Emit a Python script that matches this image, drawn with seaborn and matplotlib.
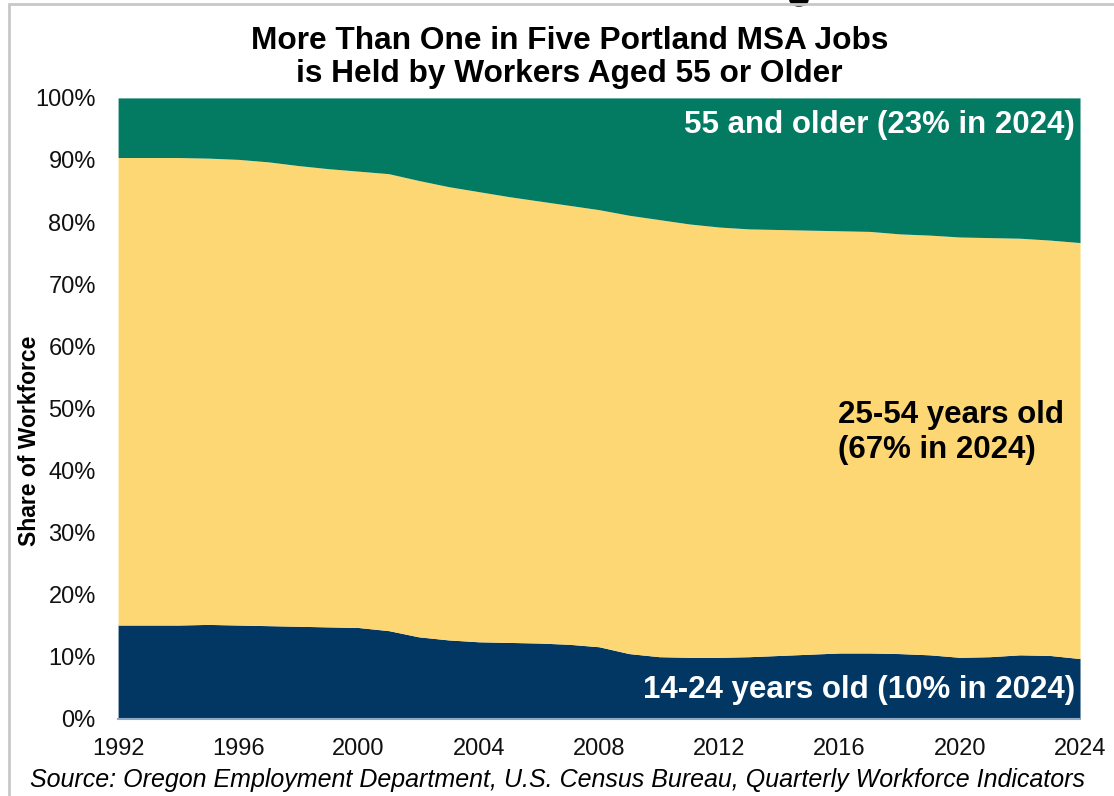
import seaborn as sns
import matplotlib.pyplot as plt
import matplotlib.patches as mpatches
import pandas as pd

# share of jobs by worker age, Portland MSA (percent)
years = list(range(1992, 2025))
age_14_24 = [15.1, 15.1, 15.1, 15.2, 15.1, 15.0, 14.9, 14.8, 14.7, 14.2, 13.2,
             12.7, 12.4, 12.3, 12.2, 12.0, 11.6, 10.5, 10.0, 9.9, 9.9, 10.0,
             10.2, 10.4, 10.6, 10.6, 10.5, 10.3, 9.9, 10.0, 10.3, 10.2, 9.7]
age_55_plus = [9.6, 9.6, 9.6, 9.7, 9.9, 10.3, 10.9, 11.4, 11.8, 12.2, 13.3,
               14.3, 15.1, 15.9, 16.6, 17.3, 18.0, 18.9, 19.6, 20.3, 20.8, 21.1,
               21.2, 21.3, 21.4, 21.5, 21.9, 22.1, 22.4, 22.5, 22.6, 22.9, 23.3]
age_25_54 = [100 - a - b for a, b in zip(age_14_24, age_55_plus)]

df = pd.DataFrame({"Year": years, "14-24": age_14_24,
                   "25-54": age_25_54, "55+": age_55_plus})

colors = ["#023764", "#FDD774", "#037A62"]

sns.set_style("white")
plt.rcParams['font.family'] = ['Liberation Sans', 'DejaVu Sans']
plt.rcParams['text.color'] = 'black'
plt.rcParams['axes.labelcolor'] = 'black'

fig = plt.figure(figsize=(11.14, 7.96), dpi=100)
ax = fig.add_axes([0.106, 0.097, 0.8635, 0.78])

ax.stackplot(df["Year"], df["14-24"], df["25-54"], df["55+"],
             colors=colors, linewidth=0)

ax.set_xlim(1992, 2024)
ax.set_ylim(0, 100)
ax.set_xticks(range(1992, 2025, 4))
ax.set_yticks(range(0, 101, 10))
ax.set_yticklabels([f"{v}%" for v in range(0, 101, 10)])
ax.tick_params(axis="both", labelsize=17, length=0, colors="#111111")
ax.tick_params(axis="x", pad=14)
ax.tick_params(axis="y", pad=16)
ax.set_ylabel("Share of Workforce", fontsize=16.5, fontweight="bold", va="center")
ax.yaxis.set_label_coords(-0.0925, 0.448)

sns.despine(ax=ax, left=True, top=True, right=True)
ax.spines["bottom"].set_color("#8EA9C1")
ax.spines["bottom"].set_linewidth(1.5)

ax.text(2023.84, 95.65, "55 and older (23% in 2024)", color="white",
        fontsize=22.5, fontweight="bold", ha="right", va="center")
ax.text(2015.95, 46.1, "25-54 years old\n(67% in 2024)", color="black",
        fontsize=22.5, fontweight="bold", ha="left", va="center", linespacing=1.25)
ax.text(2023.84, 4.67, "14-24 years old (10% in 2024)", color="white",
        fontsize=22.5, fontweight="bold", ha="right", va="center")

fig.text(0.511, 0.9278, "More Than One in Five Portland MSA Jobs\nis Held by Workers Aged 55 or Older",
         fontsize=22.8, fontweight="bold", ha="center", va="center", linespacing=1.1)

fig.text(0.027, 0.0201, "Source: Oregon Employment Department, U.S. Census Bureau, Quarterly Workforce Indicators",
         fontsize=18, style="italic", ha="left", va="center")

# slide frame and the clipped bit of the slide heading above the chart
fig.add_artist(plt.Line2D([0.0085, 0.0085], [0, 0.995], color="#C8C8C8", lw=2))
fig.add_artist(plt.Line2D([0.0085, 1], [0.995, 0.995], color="#C8C8C8", lw=2))
fig.add_artist(mpatches.Ellipse((0.7172, 1.0), 0.0162, 0.0151, color="black",
                                transform=fig.transFigure))

fig.savefig("out.png", dpi=100)
